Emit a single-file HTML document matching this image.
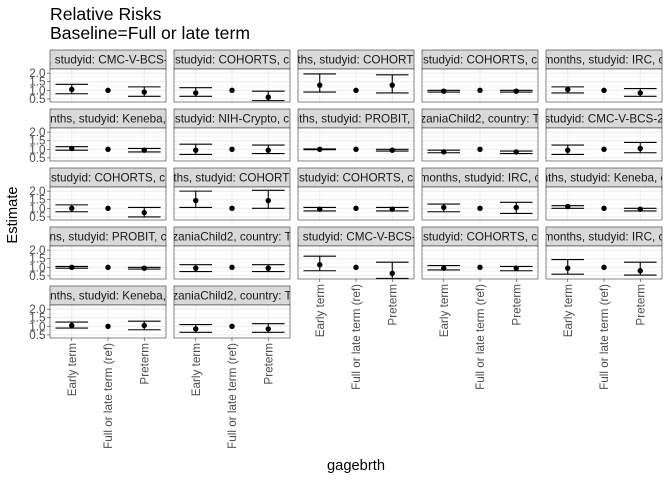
<!DOCTYPE html>
<html><head><meta charset="utf-8"><style>
body{margin:0;background:#fff}
svg{display:block;font-family:"Liberation Sans",sans-serif}
</style></head><body>
<svg id="chart" width="672" height="480">
<defs id="defs"></defs>
<text x="50" y="20" font-size="17.6" fill="#000">Relative Risks</text>
<text x="50" y="39" font-size="17.6" fill="#000">Baseline=Full or late term</text>
<text transform="translate(17,215) rotate(-90)" text-anchor="middle" font-size="14.7">Estimate</text>
<text x="356" y="470" text-anchor="middle" font-size="14.7">gagebrth</text>
<g id="panels"></g>
</svg>
<script>
const categories = ["Early term","Full or late term (ref)","Preterm"];
const stripLabels = [", studyid: CMC-V-BCS-","studyid: COHORTS, c","nths, studyid: COHORTS","studyid: COHORTS, c","months, studyid: IRC, c",
"nths, studyid: Keneba, ","studyid: NIH-Crypto, c","nths, studyid: PROBIT, c","zaniaChild2, country: T","studyid: CMC-V-BCS-2",
"studyid: COHORTS, c","nths, studyid: COHORTS","studyid: COHORTS, c","months, studyid: IRC, c","nths, studyid: Keneba, c",
"ns, studyid: PROBIT, c","zaniaChild2, country: T",", studyid: CMC-V-BCS-","studyid: COHORTS, c","months, studyid: IRC, c",
"nths, studyid: Keneba, ","zaniaChild2, country: T"];
const earlyEst = [1.05,0.85,1.3,0.95,1.05, 1.05,0.95,1.0,0.85,0.95, 1.0,1.45,0.95,1.05,1.1, 1.0,0.95,1.15,0.95,0.95, 1.05,0.85];
const earlyLo  = [0.8,0.65,0.9,0.9,0.85, 0.95,0.7,0.98,0.8,0.7, 0.8,1.05,0.85,0.8,1.0, 0.95,0.75,0.8,0.85,0.6, 0.9,0.65];
const earlyHi  = [1.35,1.15,1.95,1.0,1.2, 1.15,1.3,1.02,0.95,1.25, 1.2,2.0,1.05,1.25,1.15, 1.05,1.15,1.65,1.1,1.45, 1.25,1.1];
const pretermEst = [0.9,0.6,1.3,0.95,0.85, 0.95,0.95,0.95,0.85,1.05, 0.75,1.45,0.95,1.05,0.95, 0.95,0.95,0.65,0.95,0.8, 1.05,0.85];
const pretermLo  = [0.65,0.4,0.85,0.9,0.65, 0.85,0.75,0.9,0.75,0.8, 0.5,1.0,0.85,0.7,0.85, 0.9,0.75,0.35,0.8,0.55, 0.8,0.65];
const pretermHi  = [1.2,0.95,1.9,1.0,1.1, 1.05,1.25,1.0,0.9,1.4, 1.05,2.05,1.05,1.35,1.0, 1.0,1.15,1.3,1.05,1.3, 1.3,1.15];
const refEst = 1;
const yTicks = [0.5,1.0,1.5,2.0];
const yTickLabels = ["0.5","1.0","1.5","2.0"];
const yMinor = [0.75,1.25,1.75];

const NS="http://www.w3.org/2000/svg";
const g=document.getElementById('panels');
const defs=document.getElementById('defs');
const PW=116, PH=33, SH=19, YMIN=0.32, YMAX=2.24;
function mk(t,a,p){const e=document.createElementNS(NS,t);for(const k in a)e.setAttribute(k,a[k]);(p||g).appendChild(e);return e;}
function xs(x0,i){return x0+PW*((i+1)-0.4)/3.2;}
function ys(y0,v){return y0+PH*(YMAX-v)/(YMAX-YMIN);}
const nCols=5;
stripLabels.forEach((lab,k)=>{
  const r=Math.floor(k/nCols), c=k%nCols;
  const x0=50+c*124, st=50+r*59, y0=st+SH;
  const pg=mk('g',{});
  
  
  const cp=mk('clipPath',{id:'cp'+k},defs);
  mk('rect',{x:x0,y:y0,width:PW,height:PH},cp);
  const cs=mk('clipPath',{id:'cs'+k},defs);
  mk('rect',{x:x0,y:st,width:PW,height:SH},cs);
  // strip
  const sr=mk('rect',{x:x0,y:st,width:PW,height:SH,fill:'#d9d9d9',stroke:'#333','stroke-width':0.6},pg);
  
  
  const stx=mk('text',{x:x0+PW/2,y:st+13.5,'text-anchor':'middle','font-size':11.7,fill:'#1a1a1a','clip-path':'url(#cs'+k+')'},pg);
  stx.textContent=lab;
  
  
  mk('rect',{x:x0,y:y0,width:PW,height:PH,fill:'#fff'},pg);
  yMinor.forEach(v=>mk('line',{x1:x0,x2:x0+PW,y1:ys(y0,v),y2:ys(y0,v),stroke:'#f2f2f2','stroke-width':0.6},pg));
  yTicks.forEach(v=>mk('line',{x1:x0,x2:x0+PW,y1:ys(y0,v),y2:ys(y0,v),stroke:'#ebebeb','stroke-width':1},pg));
  categories.forEach((cat,i)=>mk('line',{x1:xs(x0,i),x2:xs(x0,i),y1:y0,y2:y0+PH,stroke:'#ebebeb','stroke-width':1},pg));
  const dg=mk('g',{'clip-path':'url(#cp'+k+')'},pg);
  const series=[[earlyEst[k],earlyLo[k],earlyHi[k]],[refEst,null,null],[pretermEst[k],pretermLo[k],pretermHi[k]]];
  series.forEach((s,i)=>{
    const cx=xs(x0,i), hw=PW/3.2*0.45;
    if(s[1]!==null){
      const eb=mk('path',{d:`M${cx-hw},${ys(y0,s[2])}H${cx+hw}M${cx},${ys(y0,s[2])}V${ys(y0,s[1])}M${cx-hw},${ys(y0,s[1])}H${cx+hw}`,stroke:'#000','stroke-width':1.1,fill:'none'},dg);
      
      
    }
    const pt=mk('circle',{cx:cx,cy:ys(y0,s[0]),r:2.7,fill:'#000'},dg);
    
    
  });
  mk('rect',{x:x0,y:y0,width:PW,height:PH,fill:'none',stroke:'#333','stroke-width':0.6},pg);
  if(c===0){
    yTicks.forEach((v,i)=>{
      mk('line',{x1:x0-3,x2:x0,y1:ys(y0,v),y2:ys(y0,v),stroke:'#333','stroke-width':0.6},pg);
      const t=mk('text',{x:x0-4.5,y:ys(y0,v)+4,'text-anchor':'end','font-size':11.7,fill:'#4d4d4d'},pg);
      t.textContent=yTickLabels[i];
      
      
    });
  }
  const bottom = (k+nCols>=stripLabels.length);
  if(bottom){
    categories.forEach((cat,i)=>{
      const cx=xs(x0,i), yb=y0+PH;
      mk('line',{x1:cx,x2:cx,y1:yb,y2:yb+3,stroke:'#333','stroke-width':0.6},pg);
      const t=mk('text',{transform:`translate(${cx+4},${yb+5}) rotate(-90)`,'text-anchor':'end','font-size':11.7,fill:'#4d4d4d'},pg);
      t.textContent=cat;
      
      
    });
  }
});
</script>
</body></html>
